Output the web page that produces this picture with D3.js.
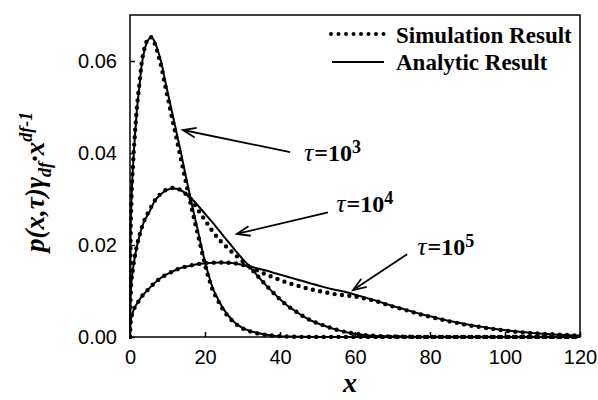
<!DOCTYPE html>
<html>
<head>
<meta charset="utf-8">
<script src="https://cdn.jsdelivr.net/npm/d3@7"></script>
<style>
  html, body { margin: 0; padding: 0; background: #fff; }
  svg { display: block; }
</style>
</head>
<body>
<svg id="chart" width="598" height="400"></svg>
<script>
// ---- data ----
const xTicks = [0, 20, 40, 60, 80, 100, 120];
const yTicks = [0.00, 0.02, 0.04, 0.06];

// tau = 10^3
const sol3 = [[0,0],[0.15,0.022],[0.4,0.030],[0.8,0.037],[1.3,0.0435],[1.8,0.049],[2.5,0.0545],[3.1,0.0590],[4,0.0628],[4.8,0.0645],[5.6,0.0651],[6.4,0.0645],[7.1,0.0631],[7.8,0.0613],[8.4,0.0595],[9.3,0.0560],[10.5,0.0515],[12,0.0460],[13.5,0.0404],[15,0.0345],[16.5,0.0288],[18,0.0235],[19,0.0198],[20,0.0163],[21,0.0134],[22,0.0108],[23,0.0090],[24,0.0074],[25,0.0060],[26.5,0.0044],[28,0.0031],[30,0.0020],[32.5,0.0012],[35,0.0007],[38,0.0003],[42,0.0001],[50,0],[120,0]];
const sim3 = [[0,0],[0.15,0.021],[0.4,0.030],[0.8,0.0375],[1.3,0.044],[1.8,0.0495],[2.5,0.055],[3.1,0.0595],[4,0.0632],[4.8,0.0648],[5.5,0.0652],[6.3,0.0644],[7,0.0628],[7.7,0.0608],[8.4,0.0586],[9.3,0.0550],[10.5,0.0503],[12,0.0447],[13.5,0.0390],[15,0.0333],[16.5,0.0278],[18,0.0226],[19,0.0191],[20,0.0157],[21,0.0128],[22,0.0103],[23,0.0086],[24,0.0071],[25,0.0057],[26.5,0.0042],[28,0.0030],[30,0.0019],[32.5,0.0011],[35,0.0006],[38,0.0003],[42,0.0001],[50,0],[120,0]];

// tau = 10^4
const sol4 = [[0,0],[0.1,0.007],[0.31,0.0109],[0.83,0.0149],[1.66,0.019],[2.7,0.0225],[3.7,0.025],[5.2,0.0272],[6.4,0.0293],[8.3,0.0311],[9.9,0.0320],[11.6,0.0323],[13.2,0.0320],[14.7,0.0313],[16.4,0.0301],[18,0.0287],[20,0.0268],[22,0.0249],[24,0.0229],[26,0.0209],[28,0.0189],[30,0.0170],[32,0.0152],[34,0.0133],[36,0.0115],[38,0.0098],[40,0.0082],[42,0.0068],[44,0.0057],[46,0.0046],[48,0.0037],[50,0.0030],[52,0.0024],[55,0.0016],[58,0.0010],[62,0.0005],[66,0.0002],[72,0.0001],[80,0],[120,0]];
const sim4 = [[0,0],[0.1,0.007],[0.31,0.0109],[0.83,0.015],[1.66,0.0191],[2.7,0.0226],[3.7,0.0251],[5.2,0.0276],[6.4,0.0294],[8.3,0.0312],[9.9,0.0321],[11.6,0.0324],[13.2,0.0321],[14.7,0.0312],[16.4,0.0298],[18,0.0278],[20,0.0254],[22,0.0230],[24,0.0210],[26,0.0194],[28,0.0179],[30,0.0165],[32,0.0151],[34,0.0133],[36,0.0115],[38,0.0098],[40,0.0082],[42,0.0068],[44,0.0057],[46,0.0046],[48,0.0037],[50,0.0030],[52,0.0024],[55,0.0016],[58,0.0010],[62,0.0005],[66,0.0002],[72,0.0001],[80,0],[120,0]];

// tau = 10^5
const sol5 = [[0,0],[0.1,0.0025],[0.3,0.0040],[0.7,0.0052],[1.3,0.0065],[2,0.0074],[3,0.0087],[4,0.0096],[5.5,0.0109],[7.5,0.0124],[9.5,0.0135],[11.5,0.0143],[13.5,0.0150],[16,0.0155],[18.5,0.0159],[21,0.0161],[24,0.0162],[27,0.0161],[30,0.0157],[33,0.0151],[36,0.0145],[39,0.0138],[42,0.0131],[45,0.0124],[48,0.0117],[51,0.0110],[54,0.0104],[57,0.0099],[60,0.0092],[63,0.0085],[66,0.0078],[69,0.0070],[72,0.0063],[75,0.0056],[78,0.0049],[81,0.0043],[84,0.0037],[87,0.0032],[90,0.0027],[94,0.0022],[98,0.0017],[102,0.0013],[106,0.0010],[110,0.0007],[115,0.0005],[120,0.0003]];
const sim5 = [[0,0],[0.1,0.0025],[0.3,0.0040],[0.7,0.0052],[1.3,0.0065],[2,0.0074],[3,0.0087],[4,0.0096],[5.5,0.0109],[7.5,0.0124],[9.5,0.0135],[11.5,0.0143],[13.5,0.0150],[16,0.0155],[18.5,0.0159],[21,0.0161],[24,0.0162],[27,0.0161],[30,0.0157],[33,0.0148],[36,0.0137],[39,0.0127],[42,0.0118],[45,0.0111],[48,0.0104],[51,0.0099],[54,0.0094],[57,0.0091],[60,0.0088],[63,0.0083],[66,0.0077],[69,0.0069],[72,0.0062],[75,0.0055],[78,0.0048],[81,0.0042],[84,0.0036],[87,0.0031],[90,0.0026],[94,0.0021],[98,0.0016],[102,0.0012],[106,0.0009],[110,0.0007],[115,0.0005],[120,0.0003]];

const seriesNames = ["Simulation Result", "Analytic Result"];
const tauExp = ["3", "4", "5"];
// annotation arrows in data units: [tipX, tipY, tailX, tailY, labelX, labelY]
const annotations = [
  [14.1, 0.0450, 42.7, 0.0402, 46.4, 0.0382],
  [28.5, 0.0224, 52.8, 0.0271, 55.0, 0.0271],
  [59.5, 0.0102, 73.9, 0.0180, 76.6, 0.0178]
];

// ---- layout ----
const svg = d3.select("#chart");
const L = 130, R = 580, T = 15, B = 337;
const x = d3.scaleLinear().domain([0, 120]).range([L, R]);
const y = d3.scaleLinear().domain([0, 0.07]).range([B, T]);

svg.append("defs").append("clipPath").attr("id", "clip")
  .append("rect").attr("x", L - 1).attr("y", T - 2).attr("width", R - L + 3).attr("height", B - T + 4);

const line = d3.line().x(d => x(d[0])).y(d => y(d[1])).curve(d3.curveMonotoneX);

const plot = svg.append("g").attr("clip-path", "url(#clip)");
[sim3, sim4, sim5].forEach(s => {
  plot.append("path").attr("d", line(s))
    .attr("fill", "none").attr("stroke", "#000")
    .attr("stroke-width", 4.4).attr("stroke-linecap", "round")
    .attr("stroke-dasharray", "0 7.4");
});
[sol3, sol4, sol5].forEach(s => {
  plot.append("path").attr("d", line(s))
    .attr("fill", "none").attr("stroke", "#000")
    .attr("stroke-width", 2);
});

// axes
const xAxis = d3.axisBottom(x).tickValues(xTicks).tickSizeInner(-5).tickSizeOuter(0).tickPadding(13);
const yAxis = d3.axisLeft(y).tickValues(yTicks).tickFormat(d3.format(".2f")).tickSizeInner(-5).tickSizeOuter(0).tickPadding(13);
const gx = svg.append("g").attr("transform", `translate(0,${B})`).call(xAxis);
const gy = svg.append("g").attr("transform", `translate(${L},0)`).call(yAxis);
[gx, gy].forEach(g => {
  g.select(".domain").remove();
  g.selectAll(".tick line").attr("stroke", "#000").attr("stroke-width", 1.5);
  g.selectAll(".tick text").attr("fill", "#000")
    .style("font-family", "'Liberation Sans', Arial, sans-serif").style("font-size", "20px");
});

// frame
svg.append("rect").attr("x", L).attr("y", T).attr("width", R - L).attr("height", B - T)
  .attr("fill", "none").attr("stroke", "#000").attr("stroke-width", 1.5);

const serif = "'Liberation Serif', 'Times New Roman', serif";

// x label
svg.append("text").attr("x", (L + R) / 2 - 5).attr("y", 392)
  .attr("text-anchor", "middle")
  .style("font-family", serif).style("font-size", "28px")
  .style("font-weight", "bold").style("font-style", "italic")
  .text("x");

// y label
const yl = svg.append("text").attr("transform", "translate(44,252) rotate(-90)")
  .style("font-family", serif).style("font-weight", "bold").style("font-style", "italic");
yl.append("tspan").style("font-size", "27px").text("p(x,τ)γ");
yl.append("tspan").style("font-size", "18px").attr("dy", 7).text("df");
yl.append("tspan").style("font-size", "27px").attr("dy", -7).text("·x");
yl.append("tspan").style("font-size", "18px").attr("dy", -12).text("df-1");

// legend
const lg = svg.append("g");
lg.append("line").attr("x1", 331).attr("x2", 384).attr("y1", 34).attr("y2", 34)
  .attr("stroke", "#000").attr("stroke-width", 4).attr("stroke-linecap", "round")
  .attr("stroke-dasharray", "0 7.5");
lg.append("line").attr("x1", 332).attr("x2", 384).attr("y1", 62).attr("y2", 62)
  .attr("stroke", "#000").attr("stroke-width", 2);
seriesNames.forEach((n, i) => {
  lg.append("text").attr("x", 396).attr("y", 43 + i * 27)
    .style("font-family", serif).style("font-size", "23px").style("font-weight", "bold")
    .text(n);
});

// annotations
annotations.forEach((a, i) => {
  const tx = x(a[0]), ty = y(a[1]), sx = x(a[2]), sy = y(a[3]);
  const ang = Math.atan2(sy - ty, sx - tx);
  const len = 14, spread = 0.36;
  const g = svg.append("g").attr("stroke", "#000").attr("stroke-width", 1.8).attr("fill", "none");
  g.append("line").attr("x1", sx).attr("y1", sy).attr("x2", tx).attr("y2", ty);
  g.append("path").attr("d",
    `M${tx + len * Math.cos(ang + spread)},${ty + len * Math.sin(ang + spread)}L${tx},${ty}L${tx + len * Math.cos(ang - spread)},${ty + len * Math.sin(ang - spread)}`);
  const t = svg.append("text").attr("x", x(a[4])).attr("y", y(a[5]))
    .style("font-family", serif);
  t.append("tspan").style("font-size", "26px").style("font-style", "italic").text("τ");
  t.append("tspan").style("font-size", "24px").style("font-weight", "bold").attr("dx", 1).text("=10");
  t.append("tspan").style("font-size", "18px").style("font-weight", "bold").attr("dy", -8).text(tauExp[i]);
});
</script>
</body>
</html>
